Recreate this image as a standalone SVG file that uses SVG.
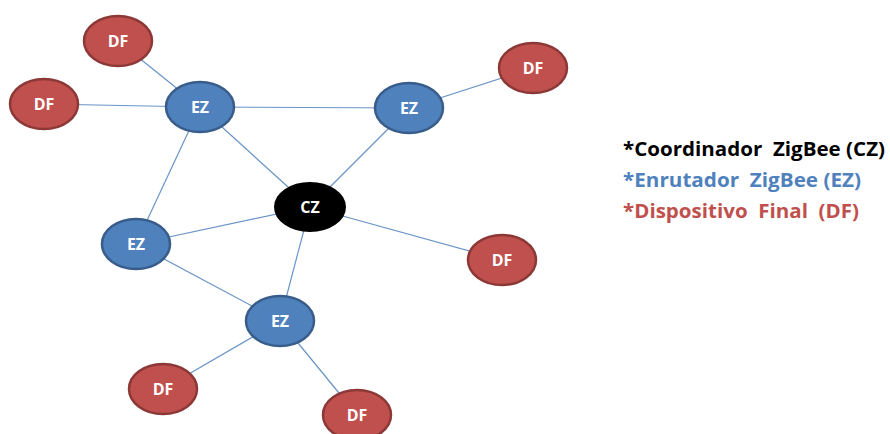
<svg xmlns="http://www.w3.org/2000/svg" width="890" height="434" viewBox="0 0 890 434">
<style>
.e{stroke:#4F81BD;stroke-width:1.2;stroke-opacity:0.85}
.df{fill:#C0504D;stroke:#8C3836;stroke-width:2.5}
.ez{fill:#4F81BD;stroke:#385D8A;stroke-width:2.5}
.cz{fill:#000;stroke:#000;stroke-width:2}
.lb{font-family:"Open Sans","Liberation Sans",sans-serif;font-weight:bold;font-size:16px;fill:#fff;text-anchor:middle}
.lg{font-family:"Open Sans","Liberation Sans",sans-serif;font-weight:bold;font-size:19px;white-space:pre}
</style>
<rect width="890" height="434" fill="#fff"/>
<g id="connectors">
<line class="e" x1="118" y1="41" x2="200" y2="107"/>
<line class="e" x1="44" y1="104" x2="200" y2="107"/>
<line class="e" x1="200" y1="107" x2="409" y2="108"/>
<line class="e" x1="200" y1="107" x2="310" y2="207"/>
<line class="e" x1="200" y1="107" x2="136" y2="244"/>
<line class="e" x1="409" y1="108" x2="533" y2="68"/>
<line class="e" x1="409" y1="108" x2="310" y2="207"/>
<line class="e" x1="310" y1="207" x2="136" y2="244"/>
<line class="e" x1="310" y1="207" x2="502" y2="260"/>
<line class="e" x1="310" y1="207" x2="280" y2="321"/>
<line class="e" x1="136" y1="244" x2="280" y2="321"/>
<line class="e" x1="280" y1="321" x2="163" y2="389"/>
<line class="e" x1="280" y1="321" x2="357" y2="415"/>
</g>
<g id="df1"><ellipse class="df" cx="118" cy="41" rx="34" ry="25"/><text class="lb" x="118" y="47">DF</text></g>
<g id="df2"><ellipse class="df" cx="44" cy="104" rx="34" ry="25"/><text class="lb" x="44" y="110">DF</text></g>
<g id="ez1"><ellipse class="ez" cx="200" cy="107" rx="34" ry="25"/><text class="lb" x="200" y="113">EZ</text></g>
<g id="ez2"><ellipse class="ez" cx="409" cy="108" rx="34" ry="25"/><text class="lb" x="409" y="114">EZ</text></g>
<g id="df3"><ellipse class="df" cx="533" cy="68" rx="34" ry="25"/><text class="lb" x="533" y="74">DF</text></g>
<g id="cz"><ellipse class="cz" cx="310" cy="207" rx="35" ry="24"/><text class="lb" x="310" y="213">CZ</text></g>
<g id="ez3"><ellipse class="ez" cx="136" cy="244" rx="34" ry="25"/><text class="lb" x="136" y="250">EZ</text></g>
<g id="df4"><ellipse class="df" cx="502" cy="260" rx="34" ry="25"/><text class="lb" x="502" y="266">DF</text></g>
<g id="ez4"><ellipse class="ez" cx="280" cy="321" rx="34" ry="25"/><text class="lb" x="280" y="327">EZ</text></g>
<g id="df5"><ellipse class="df" cx="163" cy="389" rx="34" ry="25"/><text class="lb" x="163" y="395">DF</text></g>
<g id="df6"><ellipse class="df" cx="357" cy="415" rx="34" ry="25"/><text class="lb" x="357" y="421">DF</text></g>
<g id="legend">
<text class="lg" x="623" y="156" fill="#000" textLength="262" lengthAdjust="spacingAndGlyphs">*Coordinador  ZigBee (CZ)</text>
<text class="lg" x="623" y="187" fill="#4F81BD" textLength="238" lengthAdjust="spacingAndGlyphs">*Enrutador  ZigBee (EZ)</text>
<text class="lg" x="623" y="218" fill="#C0504D" textLength="236" lengthAdjust="spacingAndGlyphs">*Dispositivo  Final  (DF)</text>
</g>
</svg>
